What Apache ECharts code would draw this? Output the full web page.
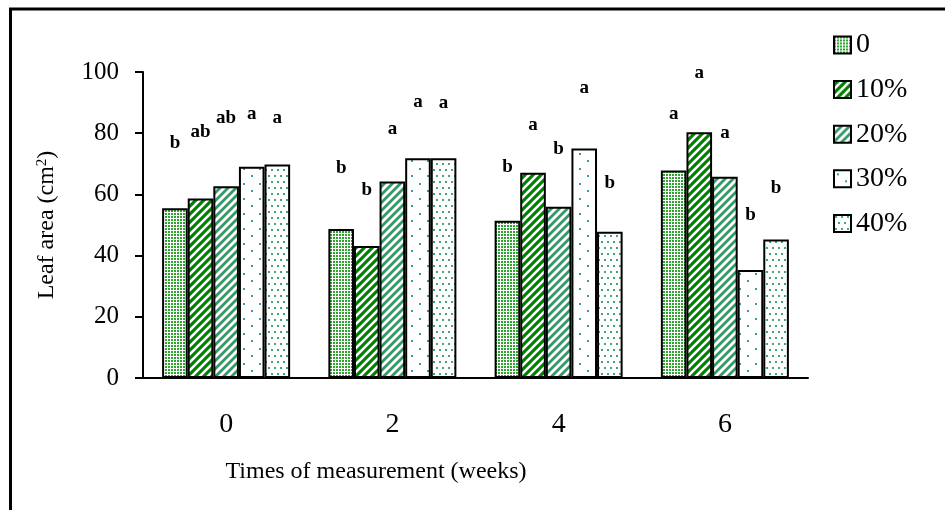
<!DOCTYPE html>
<html>
<head>
<meta charset="utf-8">
<script src="https://cdn.jsdelivr.net/npm/echarts@6/dist/echarts.min.js"></script>
<style>
  html, body { margin: 0; padding: 0; background: #fff; }
  #chart { width: 945px; height: 510px; }
</style>
</head>
<body>
<div id="chart"></div>
<script>
// weeks on the x axis, treatment levels in the legend
const weeks = ['0', '2', '4', '6'];
const levels = ['0', '10%', '20%', '30%', '40%'];
const yTicks = { min: 0, max: 100, step: 20 };

// leaf area (cm2) per level, one value per week
const area0 = [55.5, 48.7, 51.4, 67.8];
const area10 = [58.7, 43.1, 67.1, 80.3];
const area20 = [62.7, 64.2, 56.0, 65.8];
const area30 = [69.0, 71.8, 75.0, 35.3];
const area40 = [69.8, 71.8, 47.8, 45.3];

// significance letters and the height (axis value) where each one sits
const letters0 = ['b', 'b', 'b', 'a'];
const letters10 = ['ab', 'b', 'a', 'a'];
const letters20 = ['ab', 'a', 'b', 'a'];
const letters30 = ['a', 'a', 'a', 'b'];
const letters40 = ['a', 'a', 'b', 'b'];
const letterAt0 = [76.7, 68.5, 68.8, 86.3];
const letterAt10 = [80.5, 61.4, 82.7, 99.6];
const letterAt20 = [84.9, 81.3, 74.7, 80.0];
const letterAt30 = [86.2, 90.3, 94.7, 53.3];
const letterAt40 = [84.9, 89.8, 63.6, 62.0];

const serif = '"Liberation Serif", "Times New Roman", serif';

function makePattern(w, h, bg, draw) {
    const c = document.createElement('canvas');
    c.width = w;
    c.height = h;
    const ctx = c.getContext('2d');
    ctx.fillStyle = bg;
    ctx.fillRect(0, 0, w, h);
    draw(ctx);
    return { image: c, repeat: 'repeat' };
}

// "/" stripes on an 8px tile
function stripes(bg, fg, lw) {
    return makePattern(8, 8, bg, ctx => {
        ctx.strokeStyle = fg;
        ctx.lineWidth = lw;
        ctx.beginPath();
        ctx.moveTo(-2, 10); ctx.lineTo(10, -2);
        ctx.moveTo(-2, 2); ctx.lineTo(2, -2);
        ctx.moveTo(6, 10); ctx.lineTo(10, 6);
        ctx.stroke();
    });
}

function dots(w, h, bg, fg, pts, size) {
    return makePattern(w, h, bg, ctx => {
        ctx.fillStyle = fg;
        pts.forEach(p => ctx.fillRect(p[0], p[1], size, size));
    });
}

const fills = [
    dots(3, 3, '#ffffff', '#2ea32e', [[0, 0]], 2),                 // 0
    stripes('#008000', '#ffffff', 2.6),                              // 10%
    stripes('#ffffff', '#339966', 2.8),                              // 20%
    dots(16, 15, '#ffffff', '#3a9ca0', [[3, 3], [11, 10]], 2),        // 30%
    dots(6, 12, '#ffffff', '#40a874', [[1, 1], [4, 7]], 2)            // 40%
];

function barSeries(idx, values, letters, heights) {
    return {
        name: levels[idx],
        type: 'bar',
        data: values,
        barGap: '0%',
        barCategoryGap: '23%',
        itemStyle: { color: fills[idx], borderColor: '#000', borderWidth: 2 },
        markPoint: {
            symbol: 'circle',
            symbolSize: 1,
            itemStyle: { color: 'rgba(0,0,0,0)' },
            label: {
                show: true,
                position: 'inside',
                formatter: '{b}',
                color: '#000',
                fontFamily: serif,
                fontWeight: 'bold',
                fontSize: 19
            },
            data: letters.map((t, i) => ({ name: t, coord: [weeks[i], heights[i]] }))
        }
    };
}

let myChart = echarts.init(document.getElementById('chart'));
let option = {
    animation: false,
    backgroundColor: '#fff',
    textStyle: { fontFamily: serif, color: '#000' },
    grid: { left: 143, right: 137, top: 72, bottom: 132 },
    legend: {
        data: levels,
        orient: 'vertical',
        left: 833,
        top: 31,
        padding: 0,
        icon: 'rect',
        itemWidth: 17,
        itemHeight: 17,
        itemGap: 16.6,
        itemTextGap: 7,
        itemStyle: { borderColor: '#000', borderWidth: 2 },
        textStyle: { fontFamily: serif, fontSize: 28, color: '#000' }
    },
    xAxis: {
        type: 'category',
        data: weeks,
        axisLine: { lineStyle: { color: '#000', width: 2 } },
        axisTick: { length: 10, lineStyle: { color: '#000', width: 2 } },
        axisLabel: { fontFamily: serif, fontSize: 28, color: '#000', margin: 33 }
    },
    yAxis: {
        type: 'value',
        min: yTicks.min,
        max: yTicks.max,
        interval: yTicks.step,
        name: 'Leaf area (cm{sup|2})',
        nameLocation: 'middle',
        nameGap: 84,
        nameTextStyle: {
            fontFamily: serif,
            fontSize: 24,
            color: '#000',
            rich: { sup: { fontFamily: serif, fontSize: 15, verticalAlign: 'top', color: '#000' } }
        },
        axisLine: { show: true, lineStyle: { color: '#000', width: 2 } },
        axisTick: { show: true, length: 8, lineStyle: { color: '#000', width: 2 } },
        splitLine: { show: false },
        axisLabel: { fontFamily: serif, fontSize: 25, color: '#000', margin: 24 }
    },
    graphic: [
        {
            type: 'rect',
            silent: true,
            shape: { x: 10.5, y: 9, width: 1000, height: 1000 },
            style: { fill: 'none', stroke: '#000', lineWidth: 3 }
        },
        {
            type: 'text',
            x: 376,
            y: 472,
            style: {
                text: 'Times of measurement (weeks)',
                font: '24px ' + serif,
                fill: '#000',
                textAlign: 'center',
                textVerticalAlign: 'middle'
            }
        }
    ],
    series: [
        barSeries(0, area0, letters0, letterAt0),
        barSeries(1, area10, letters10, letterAt10),
        barSeries(2, area20, letters20, letterAt20),
        barSeries(3, area30, letters30, letterAt30),
        barSeries(4, area40, letters40, letterAt40)
    ]
};
myChart.setOption(option);
</script>
</body>
</html>
